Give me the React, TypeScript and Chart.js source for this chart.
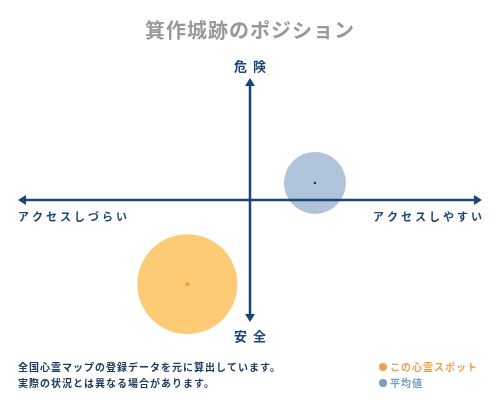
import { useEffect, useRef } from "react";
import { Chart, registerables, type Plugin } from "chart.js";

Chart.register(...registerables);

const chartTitle = "箕作城跡のポジション";
const spotNames = ["この心霊スポット", "平均値"];
// x: アクセス (-1 しづらい .. 1 しやすい), y: 危険度 (-1 安全 .. 1 危険)
const accessValues = [-0.27, 0.28];
const dangerValues = [-0.69, 0.14];
const bubbleSizes = [50, 31];
const spotColors = ["#fdca75", "#b0c4da"];
const dotColors = ["#f0a020", "#1a2a40"];
const legendColors = ["#f0a050", "#7a9cc0"];
const axisTop = "危険";
const axisBottom = "安全";
const axisLeft = "アクセスしづらい";
const axisRight = "アクセスしやすい";
const notes = ["全国心霊マップの登録データを元に算出しています。", "実際の状況とは異なる場合があります。"];

const NAVY = "#1b4674";
const FONT = '"Noto Sans CJK JP", "Noto Sans", sans-serif';

const decor: Plugin<"bubble"> = {
  id: "decor",
  afterDatasetsDraw(chart) {
    const { ctx, chartArea, scales } = chart;
    const x0 = scales.x.getPixelForValue(0);
    const y0 = scales.y.getPixelForValue(0);
    const { left, right, top, bottom } = chartArea;
    ctx.save();

    // centre dots on bubbles
    const meta = chart.getDatasetMeta(0);
    meta.data.forEach((el, i) => {
      ctx.fillStyle = dotColors[i];
      ctx.beginPath();
      ctx.arc(el.x, el.y, i === 0 ? 2 : 1.2, 0, Math.PI * 2);
      ctx.fill();
    });

    // axes with arrows
    ctx.strokeStyle = NAVY;
    ctx.fillStyle = NAVY;
    ctx.lineWidth = 2.5;
    ctx.beginPath();
    ctx.moveTo(left + 5, y0);
    ctx.lineTo(right - 5, y0);
    ctx.moveTo(x0, top + 5);
    ctx.lineTo(x0, bottom - 5);
    ctx.stroke();
    const head = (pts: number[][]) => {
      ctx.beginPath();
      ctx.moveTo(pts[0][0], pts[0][1]);
      ctx.lineTo(pts[1][0], pts[1][1]);
      ctx.lineTo(pts[2][0], pts[2][1]);
      ctx.closePath();
      ctx.fill();
    };
    head([[left, y0], [left + 8, y0 - 5], [left + 8, y0 + 5]]);
    head([[right, y0], [right - 8, y0 - 5], [right - 8, y0 + 5]]);
    head([[x0, top], [x0 - 5, top + 8], [x0 + 5, top + 8]]);
    head([[x0, bottom], [x0 - 5, bottom - 8], [x0 + 5, bottom - 8]]);

    // title
    ctx.textBaseline = "middle";
    ctx.textAlign = "center";
    ctx.fillStyle = "#999999";
    ctx.font = `bold 20px ${FONT}`;
    (ctx as any).letterSpacing = "1px";
    ctx.fillText(chartTitle, 250, 30);

    // axis labels
    ctx.fillStyle = NAVY;
    ctx.font = `bold 13px ${FONT}`;
    (ctx as any).letterSpacing = "6px";
    ctx.fillText(axisTop, x0 + 3, top - 12);
    ctx.fillText(axisBottom, x0 + 3, bottom + 14);
    ctx.font = `bold 11px ${FONT}`;
    (ctx as any).letterSpacing = "3px";
    ctx.textAlign = "left";
    ctx.fillText(axisLeft, left, y0 + 17);
    ctx.textAlign = "right";
    ctx.fillText(axisRight, right + 3, y0 + 17);

    // notes
    ctx.textAlign = "left";
    ctx.font = `bold 10px ${FONT}`;
    (ctx as any).letterSpacing = "1px";
    ctx.fillStyle = "#1d3c60";
    notes.forEach((t, i) => ctx.fillText(t, 18, 367 + i * 16));

    // legend
    spotNames.forEach((name, i) => {
      const y = 367 + i * 16;
      ctx.fillStyle = legendColors[i];
      ctx.beginPath();
      ctx.arc(383, y, 4, 0, Math.PI * 2);
      ctx.fill();
      ctx.fillText(name, 390, y);
    });
    ctx.restore();
  },
};

export default function App() {
  const canvasRef = useRef<HTMLCanvasElement | null>(null);
  const chartRef = useRef<Chart<"bubble"> | null>(null);

  useEffect(() => {
    if (!canvasRef.current) return;
    chartRef.current?.destroy();
    chartRef.current = new Chart(canvasRef.current, {
      type: "bubble",
      data: {
        datasets: [
          {
            label: "position",
            data: accessValues.map((x, i) => ({ x, y: dangerValues[i], r: bubbleSizes[i] })),
            backgroundColor: spotColors,
            borderWidth: 0,
            clip: false,
          },
        ],
      },
      options: {
        animation: false,
        responsive: true,
        maintainAspectRatio: false,
        layout: { autoPadding: false, padding: { left: 18, right: 18, top: 78, bottom: 78 } },
        plugins: { legend: { display: false }, tooltip: { enabled: false }, title: { display: false } },
        scales: {
          x: { display: false, min: -1, max: 1 },
          y: { display: false, min: -1, max: 1 },
        },
      },
      plugins: [decor],
    });
    return () => {
      chartRef.current?.destroy();
      chartRef.current = null;
    };
  }, []);

  return (
    <div style={{ position: "absolute", left: 0, top: 0, width: 500, height: 400, background: "#fff" }}>
      <canvas ref={canvasRef} />
    </div>
  );
}
